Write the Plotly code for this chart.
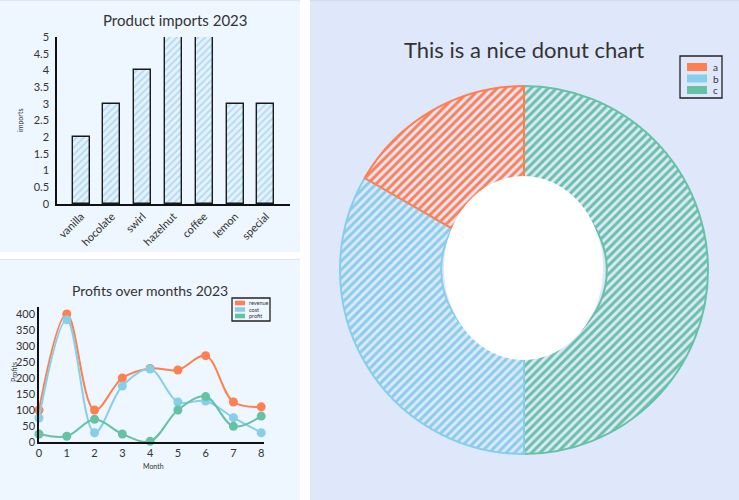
import plotly.graph_objects as go

W, H = 739, 500

# ---------------- data ----------------
bar_categories = ["vanilla", "hocolate", "swirl", "hazelnut", "coffee", "lemon", "special"]
bar_values = [2, 3, 4, 5, 5, 3, 3]

months = [0, 1, 2, 3, 4, 5, 6, 7, 8]
revenue = [100, 400, 100, 200, 230, 225, 270, 125, 110]
cost = [75, 382, 29, 175, 228, 125, 128, 76, 29]
profit = [25, 18, 71, 25, 2, 100, 142, 49, 81]
line_names = ["revenue", "cost", "profit"]

donut_labels = ["a", "b", "c"]
donut_values = [10, 20, 30]

y_ticks_bar = [0, 0.5, 1, 1.5, 2, 2.5, 3, 3.5, 4, 4.5, 5]
y_ticks_line = [0, 50, 100, 150, 200, 250, 300, 350, 400]

# ---------------- style ----------------
FONT = "Lato"
INK = "#333333"
C_ORANGE = "#ff7f50"
C_BLUE = "#87ceeb"
C_GREEN = "#66c2a5"
DONUT_COLORS = [C_ORANGE, C_BLUE, C_GREEN]
PANEL_L = "#eef6ff"
PANEL_R = "#dfe7fb"


def px(x):
    return x / W


def py(y):
    return 1 - y / H


fig = go.Figure()

# bar chart
fig.add_trace(go.Bar(
    x=bar_categories, y=bar_values, width=0.55,
    marker=dict(color="#e2f1fb",
                pattern=dict(shape="/", fgcolor="#b3dbf0", bgcolor="#e4f2fc", size=5, solidity=0.35,
                             fillmode="replace"),
                line=dict(color="#1a1a1a", width=1.4)),
    xaxis="x", yaxis="y", showlegend=False, hoverinfo="skip"))

# line chart
for name, vals, col in zip(line_names, [revenue, cost, profit], [C_ORANGE, C_BLUE, C_GREEN]):
    fig.add_trace(go.Scatter(
        x=months, y=vals, mode="lines+markers", name=name,
        line=dict(color=col, width=2, shape="spline", smoothing=1.0),
        marker=dict(color=col, size=9),
        cliponaxis=False, xaxis="x2", yaxis="y2", showlegend=False))

# donut: slices run counter-clockwise from 12 o'clock (a, b, c),
# drawn clockwise from 12 o'clock in reverse order
cx, cy, R = 524, 270, 184
fig.add_trace(go.Pie(
    labels=donut_labels[::-1], values=donut_values[::-1], sort=False, direction="clockwise",
    rotation=0, hole=0.45, textinfo="none", showlegend=False,
    domain=dict(x=[px(cx - R), px(cx + R)], y=[py(cy + R), py(cy - R)]),
    marker=dict(colors=DONUT_COLORS[::-1],
                pattern=dict(shape="/", fgcolor=DONUT_COLORS[::-1], bgcolor=PANEL_R,
                             size=6, solidity=0.5, fillmode="replace"),
                line=dict(color=DONUT_COLORS[::-1], width=2))))

shapes = [
    dict(type="rect", xref="paper", yref="paper", x0=px(0), x1=px(300), y0=py(252), y1=py(0),
         fillcolor=PANEL_L, line=dict(width=0), layer="below"),
    dict(type="rect", xref="paper", yref="paper", x0=px(0), x1=px(300), y0=py(500), y1=py(259),
         fillcolor=PANEL_L, line=dict(width=0), layer="below"),
    dict(type="rect", xref="paper", yref="paper", x0=px(310), x1=px(739), y0=py(500), y1=py(0),
         fillcolor=PANEL_R, line=dict(width=0), layer="below"),
    # thin top edges
    dict(type="rect", xref="paper", yref="paper", x0=px(0), x1=px(300), y0=py(1.3), y1=py(0),
         fillcolor="#e2e6ec", line=dict(width=0), layer="below"),
    dict(type="rect", xref="paper", yref="paper", x0=px(310), x1=px(739), y0=py(1.3), y1=py(0),
         fillcolor="#d5dbe8", line=dict(width=0), layer="below"),
    dict(type="rect", xref="paper", yref="paper", x0=px(0), x1=px(300), y0=py(260), y1=py(259),
         fillcolor="#e2e6ec", line=dict(width=0), layer="below"),
    # donut hole
    dict(type="circle", xref="paper", yref="paper", x0=px(444), x1=px(603), y0=py(360), y1=py(176),
         fillcolor="white", line=dict(width=0), layer="above"),
]


def note(text, x, y, size, xanchor="center", yanchor="middle", angle=0):
    return dict(text=text, x=px(x), y=py(y), xref="paper", yref="paper", xanchor=xanchor,
                yanchor=yanchor, textangle=angle, showarrow=False,
                font=dict(family=FONT, size=size, color=INK))


annotations = [
    note("Product imports 2023", 175, 20, 15),
    note("Profits over months 2023", 150, 290, 14),
    note("This is a nice donut chart", 524, 50, 22),
    note("imports", 20, 121, 7, angle=-90),
    note("Profits", 14, 372, 7, angle=-90),
    note("Month", 153, 466, 7),
]

# line chart legend
shapes.append(dict(type="rect", xref="paper", yref="paper", x0=px(232), x1=px(270), y0=py(321), y1=py(298),
                   fillcolor="rgba(0,0,0,0)", line=dict(color="#222", width=1.3)))
for i, (name, col) in enumerate(zip(line_names, [C_ORANGE, C_BLUE, C_GREEN])):
    yc = 303 + i * 6.5
    shapes.append(dict(type="rect", xref="paper", yref="paper", x0=px(235), x1=px(245),
                       y0=py(yc + 2.3), y1=py(yc - 2.3), fillcolor=col, line=dict(width=0)))
    annotations.append(note(name, 247, yc, 5.5, xanchor="left"))

# donut legend
shapes.append(dict(type="rect", xref="paper", yref="paper", x0=px(680), x1=px(722), y0=py(98), y1=py(56),
                   fillcolor="rgba(0,0,0,0)", line=dict(color="#222", width=1.3)))
for i, (name, col) in enumerate(zip(donut_labels, DONUT_COLORS)):
    yc = 67 + i * 11.5
    shapes.append(dict(type="rect", xref="paper", yref="paper", x0=px(687), x1=px(707),
                       y0=py(yc + 4), y1=py(yc - 4), fillcolor=col, line=dict(width=0)))
    annotations.append(note(name, 711, yc, 10, xanchor="left"))

axis_common = dict(showgrid=False, zeroline=False, showline=True, linecolor="#111", linewidth=1.5,
                   ticks="", automargin=False, tickfont=dict(family=FONT, size=11, color=INK),
                   fixedrange=True)

fig.update_layout(
    width=W, height=H, margin=dict(l=0, r=0, t=0, b=0, pad=0, autoexpand=False),
    paper_bgcolor="white", plot_bgcolor="rgba(0,0,0,0)",
    shapes=shapes, annotations=annotations,
    xaxis=dict(axis_common, domain=[px(57), px(290)], anchor="y", range=[-0.78, 6.78],
               tickangle=-45),
    yaxis=dict(axis_common, domain=[py(204), py(37)], anchor="x", range=[0, 5],
               tickvals=y_ticks_bar, ticktext=[str(v) for v in y_ticks_bar], ticklabelstandoff=4),
    xaxis2=dict(axis_common, domain=[px(39), px(264)], anchor="y2", range=[0, 8.1],
                tickvals=months),
    yaxis2=dict(axis_common, domain=[py(442), py(307)], anchor="x2", range=[0, 422],
                tickvals=y_ticks_line),
    bargap=0,
)

fig.write_html("out.html")
